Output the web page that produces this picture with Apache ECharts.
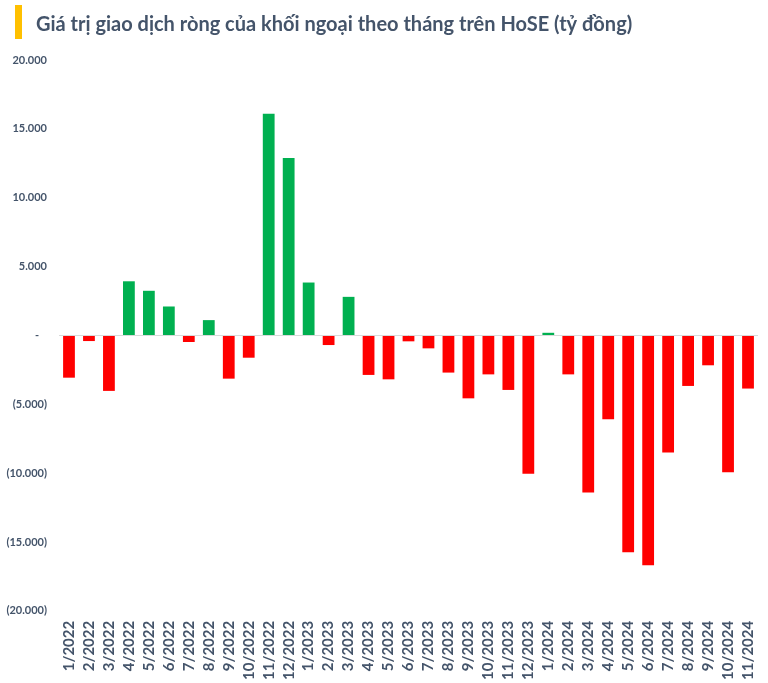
<!DOCTYPE html>
<html>
<head>
<meta charset="utf-8">
<script src="https://cdn.jsdelivr.net/npm/echarts@6/dist/echarts.min.js"></script>
<style>
html,body{margin:0;padding:0;background:#fff;}
#chart{width:768px;height:683px;}
</style>
</head>
<body>
<div id="chart"></div>
<script>
const titleText = 'Giá trị giao dịch ròng của khối ngoại theo tháng trên HoSE (tỷ đồng)';
const months = ['1/2022','2/2022','3/2022','4/2022','5/2022','6/2022','7/2022','8/2022','9/2022','10/2022','11/2022','12/2022',
  '1/2023','2/2023','3/2023','4/2023','5/2023','6/2023','7/2023','8/2023','9/2023','10/2023','11/2023','12/2023',
  '1/2024','2/2024','3/2024','4/2024','5/2024','6/2024','7/2024','8/2024','9/2024','10/2024','11/2024'];
const netValues = [-3070,-410,-4030,3930,3240,2100,-480,1110,-3140,-1620,16090,12880,
  3840,-700,2800,-2870,-3190,-430,-940,-2700,-4570,-2830,-3960,-10050,
  190,-2830,-11400,-6090,-15750,-16700,-8500,-3670,-2170,-9930,-3860];
const yMin = -20000, yMax = 20000, yStep = 5000;
const posColor = '#00b050', negColor = '#ff0000';

function fmtY(v){
  if (v === 0) return '{z|-}';
  const s = Math.abs(v).toString().replace(/\B(?=(\d{3})+(?!\d))/g, '.');
  return v < 0 ? '(' + s + ')' : s;
}

const chart = echarts.init(document.getElementById('chart'));
chart.setOption({
  animation: false,
  backgroundColor: '#fff',
  title: {
    text: titleText,
    left: 31, top: 10,
    textStyle: {fontFamily: 'Lato', fontWeight: 'bold', fontSize: 20, color: '#44546a'}
  },
  graphic: [{type: 'rect', left: 15, top: 5, shape: {width: 7, height: 34}, style: {fill: '#ffc000'}}],
  grid: {left: 59, right: 10, top: 60, bottom: 71},
  xAxis: {
    type: 'category', data: months,
    axisLine: {show: false, onZero: false},
    axisTick: {show: false},
    axisLabel: {interval: 0, rotate: 90, margin: 10, fontFamily: 'Lato', fontWeight: 'bold', fontSize: 15, color: '#44546a'}
  },
  yAxis: {
    type: 'value', min: yMin, max: yMax, interval: yStep,
    splitLine: {show: false}, axisLine: {show: false}, axisTick: {show: false},
    axisLabel: {formatter: fmtY, margin: 12, fontFamily: 'Lato', fontWeight: 'bold', fontSize: 11, color: '#44546a',
      rich: {z: {fontFamily: 'Lato', fontWeight: 'bold', fontSize: 11, color: '#44546a', padding: [0, 8, 0, 0]}}}
  },
  series: [{
    type: 'bar', data: netValues, barCategoryGap: '41%',
    itemStyle: {color: p => p.value >= 0 ? posColor : negColor},
    markLine: {silent: true, symbol: 'none', label: {show: false},
      lineStyle: {color: '#d9d9d9', type: 'solid', width: 1},
      data: [{yAxis: 0}]}
  }]
});
</script>
</body>
</html>
